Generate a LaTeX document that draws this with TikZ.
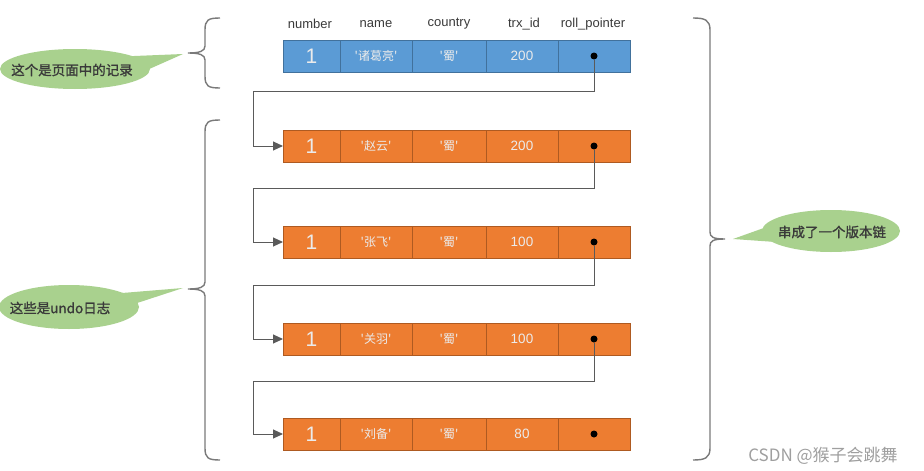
\documentclass[tikz,border=0pt]{standalone}
\usepackage{fontspec}
\setmainfont{Liberation Sans}
\newfontfamily\cjk{Noto Sans CJK SC}
\newfontfamily\cjkb[FakeBold=1.2]{Noto Sans CJK SC}
\usetikzlibrary{arrows.meta,shapes.geometric}
\definecolor{blueC}{HTML}{5B9BD5}
\definecolor{blueB}{HTML}{41719C}
\definecolor{orgC}{HTML}{ED7D31}
\definecolor{orgB}{HTML}{AE5A21}
\definecolor{grnC}{HTML}{A9D18E}
\definecolor{lineC}{HTML}{5A5A5A}
\definecolor{braceC}{HTML}{7A7A7A}
\definecolor{txtC}{HTML}{3A3A3A}
\newcommand\recrow[5]{%
  \node[#3,minimum width=57pt] (#1c1) at (311.5,#2) {\fontsize{21}{21}\selectfont 1};
  \node[#3,minimum width=72pt] (#1c2) at (376,#2) {\cjk\fontsize{12}{13}\selectfont '#4'};
  \node[#3,minimum width=74pt] (#1c3) at (449,#2) {\cjk\fontsize{12}{13}\selectfont '蜀'};
  \node[#3,minimum width=72pt] (#1c4) at (522,#2) {\fontsize{13.5}{14}\selectfont #5};
  \node[#3,minimum width=72pt] (#1c5) at (594,#2) {};
  \node[dotnode] (#1d) at (#1c5.center) {};
}
\begin{document}
\begin{tikzpicture}[x=1pt,y=-1pt,
  cellbase/.style={minimum height=32pt,inner sep=0pt,outer sep=0pt,text=white!92!black,line width=0.6pt},
  bluecell/.style={cellbase,fill=blueC,draw=blueB},
  orgcell/.style={cellbase,fill=orgC,draw=orgB},
  dotnode/.style={circle,fill=black,minimum size=7pt,inner sep=0pt},
  hdr/.style={text=txtC,font=\fontsize{13}{14}\selectfont},
  link/.style={draw=lineC,line width=1pt},
  linkarrow/.style={link,-{Triangle[length=10pt,width=9pt]}},
  bracestyle/.style={draw=braceC,line width=1.4pt},
  callout/.style={inner sep=0pt,text=txtC,font=\cjkb\fontsize{13.5}{15}\selectfont},
  bubble/.style={fill=grnC},
  wmark/.style={text=gray!75,font=\cjk\fontsize{17}{18}\selectfont}]
\useasboundingbox (0,0) rectangle (924,471);
\fill[white] (0,0) rectangle (924,471);

% headers
\node[hdr] (h1) at (310,24) {number};
\node[hdr] (h2) at (376,24) {name};
\node[hdr] (h3) at (449,24) {country};
\node[hdr] (h4) at (524,24) {trx\_id};
\node[hdr] (h5) at (593,24) {roll\_pointer};

% rows
\recrow{r0}{56}{bluecell}{诸葛亮}{200}
\recrow{r1}{146}{orgcell}{赵云}{200}
\recrow{r2}{242}{orgcell}{张飞}{100}
\recrow{r3}{339}{orgcell}{关羽}{100}
\recrow{r4}{434}{orgcell}{刘备}{80}

% connectors
\coordinate (b1) at (253,91);
\coordinate (b2) at (253,188);
\coordinate (b3) at (253,285);
\coordinate (b4) at (253,381);
\draw[link] (r0d) |- (b1);
\draw[linkarrow] (b1) |- (r1c1.west);
\draw[link] (r1d) |- (b2);
\draw[linkarrow] (b2) |- (r2c1.west);
\draw[link] (r2d) |- (b3);
\draw[linkarrow] (b3) |- (r3c1.west);
\draw[link] (r3d) |- (b4);
\draw[linkarrow] (b4) |- (r4c1.west);

% braces
\draw[bracestyle] (220,18) .. controls (208,18) and (205,20) .. (205,30) -- (205,46)
  .. controls (205,51) and (200,53) .. (188,53) .. controls (200,53) and (205,55) .. (205,60)
  -- (205,76) .. controls (205,86) and (208,88) .. (220,88);
\draw[bracestyle] (220,120) .. controls (208,120) and (205,122) .. (205,132) -- (205,282)
  .. controls (205,287) and (200,289) .. (188,289) .. controls (200,289) and (205,291) .. (205,296)
  -- (205,448) .. controls (205,458) and (208,460) .. (220,460);
\draw[bracestyle] (693,18) .. controls (705,18) and (710,20) .. (710,30) -- (710,232)
  .. controls (710,237) and (713,239) .. (725,239) .. controls (713,239) and (710,241) .. (710,246)
  -- (710,448) .. controls (710,458) and (705,460) .. (693,460);

% callouts
\fill[bubble] (110,57) -- (183,54) -- (138,74) -- cycle;
\fill[bubble] (75,69) ellipse [x radius=75, y radius=20];
\node[callout] (c1) at (72,70) {这个是页面中的记录};
\fill[bubble] (110,294) -- (183,288) -- (128,306) -- cycle;
\fill[bubble] (69,307) ellipse [x radius=70, y radius=22];
\node[callout] (c2) at (60,308) {这些是undo日志};
\fill[bubble] (775,224) -- (733,239) -- (790,243) -- cycle;
\fill[bubble] (831,231) ellipse [x radius=69, y radius=21];
\node[callout] (c3) at (832,232) {串成了一个版本链};

% watermark
\node[wmark] (wm) at (823,456) {CSDN @猴子会跳舞};
\end{tikzpicture}
\end{document}
